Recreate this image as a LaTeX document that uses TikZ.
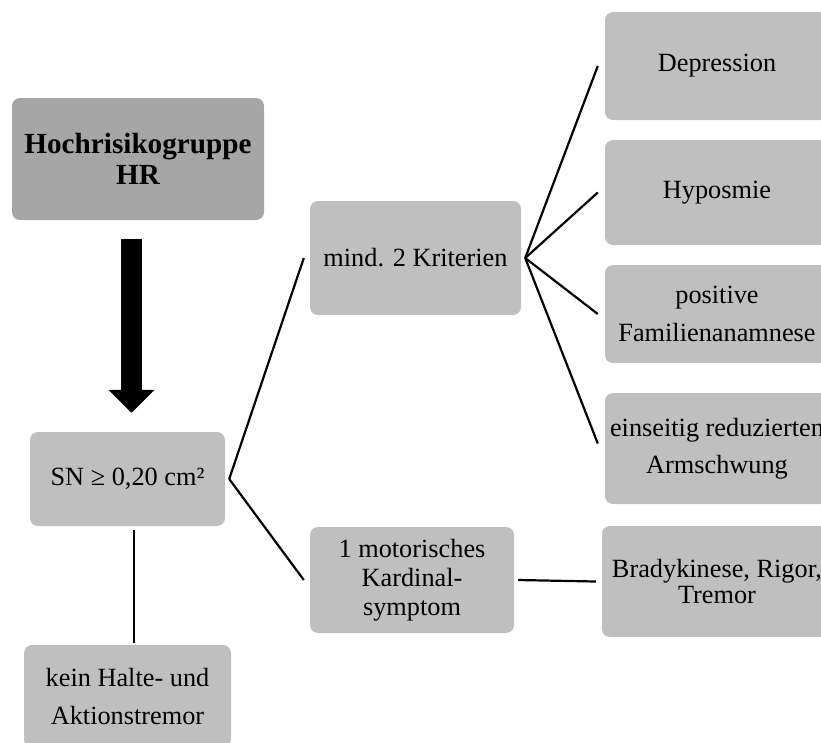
\documentclass[tikz,border=0pt]{standalone}
\usepackage{fontspec}
\setmainfont{Liberation Serif}
\usetikzlibrary{arrows.meta}
\definecolor{boxgray}{HTML}{BFBFBF}
\definecolor{headgray}{HTML}{A6A6A6}
\tikzset{
  box/.style={fill=boxgray, rounded corners=8pt, align=center, inner sep=0pt,
    font=\fontsize{26.3}{30}\selectfont},
  link/.style={line width=2.2pt, black}
}
\begin{document}
\begin{tikzpicture}[x=1pt, y=-1pt]
                \useasboundingbox (0,0) rectangle (821,742);
                \clip (0,0) rectangle (821,742);

                % Left column
                \node[box, fill=headgray, minimum width=252pt, minimum height=122pt,
                  font=\fontsize{29.2}{31}\selectfont\bfseries] (hr) at (138,159) {Hochrisikogruppe\\HR};
                \node[box, minimum width=195pt, minimum height=94pt] (sn) at (127.5,479) {SN ≥ 0,20 cm²};
                \node[box, minimum width=207pt, minimum height=102pt,
                  font=\fontsize{26.3}{38}\selectfont] (kein) at (127.5,696) {kein Halte- und\\Aktionstremor};

                % Middle column
                \node[box, minimum width=211pt, minimum height=114pt] (mind) at (415.5,258) {mind. 2 Kriterien};
                \node[box, minimum width=204pt, minimum height=106pt,
                  font=\fontsize{26.3}{29}\selectfont] (motor) at (412,580) {1 motorisches\\Kardinal-\\symptom};

                % Right column
                \node[box, minimum width=224pt, minimum height=108pt] (dep) at (717,66) {Depression};
                \node[box, minimum width=224pt, minimum height=105pt] (hyp) at (717,192.5) {Hyposmie};
                \node[box, minimum width=224pt, minimum height=98pt,
                  font=\fontsize{26.3}{38}\selectfont] (fam) at (717,314) {positive\\Familienanamnese};
                \node[box, minimum width=224pt, minimum height=111pt,
                  font=\fontsize{26.3}{37}\selectfont] (ein) at (717,448.5) {einseitig reduzierten\\Armschwung};
                \node[box, minimum width=230pt, minimum height=111pt,
                  font=\fontsize{26.3}{26}\selectfont] (brady) at (717,581.5) {Bradykinese, Rigor,\\Tremor};

                % Big arrow
                \draw[line width=21pt, -{Triangle[width=45pt, length=23pt]}]
                  ([xshift=-6.5pt, yshift=-19pt]hr.south) -- ([xshift=4pt, yshift=19pt]sn.north);

                % Connectors
                \draw[link] ([xshift=6.5pt, yshift=-4pt]sn.south) -- ([xshift=6.5pt, yshift=2pt]kein.north);
                \draw[link] ([xshift=4pt]sn.east) -- ([xshift=-6pt]mind.west);
                \draw[link] ([xshift=4pt]sn.east) -- ([xshift=-6pt]motor.west);
                \draw[link] ([xshift=4pt]mind.east) -- ([xshift=-7pt]dep.west);
                \draw[link] ([xshift=4pt]mind.east) -- ([xshift=-7pt]hyp.west);
                \draw[link] ([xshift=4pt]mind.east) -- ([xshift=-7pt]fam.west);
                \draw[link] ([xshift=4pt]mind.east) -- ([xshift=-7pt, yshift=5pt]ein.west);
                \draw[link] ([xshift=4pt]motor.east) -- ([xshift=-6pt]brady.west);
            \end{tikzpicture}
\end{document}
